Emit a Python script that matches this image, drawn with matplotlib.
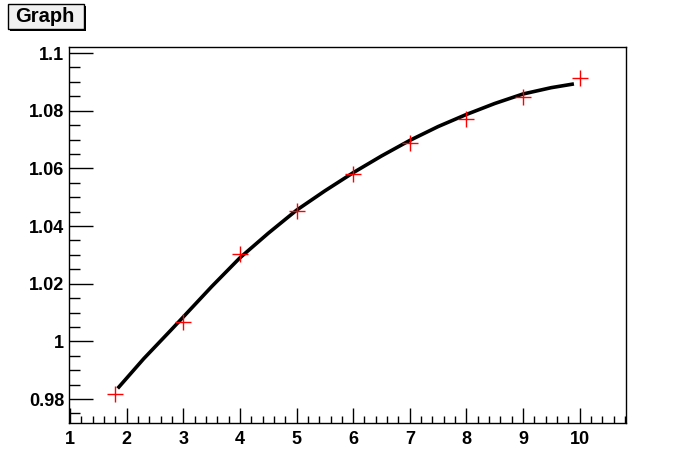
import matplotlib
matplotlib.use("Agg")
import matplotlib.pyplot as plt
from matplotlib.ticker import MultipleLocator, FuncFormatter
from matplotlib.patches import Rectangle

# measured points (red markers)
x_pts = [1.8, 3, 4, 5, 6, 7, 8, 9, 10]
y_pts = [0.9817, 1.0067, 1.0303, 1.0452, 1.0579, 1.0687, 1.0773, 1.0846, 1.0912]

# fitted curve
x_fit = [1.84, 2.3, 2.78, 3.0, 3.5, 4.0, 4.5, 5.0, 5.5, 6.0, 6.5, 7.0, 7.5, 8.0, 8.5, 9.0, 9.5, 9.9]
y_fit = [0.9837, 0.9940, 1.0039, 1.0085, 1.0190, 1.0290, 1.0375, 1.0455, 1.0522, 1.0585, 1.0643, 1.0697, 1.0745, 1.0787, 1.0825, 1.0858, 1.0880, 1.0893]

plt.rcParams['font.family'] = ['Liberation Sans', 'DejaVu Sans']

fig = plt.figure(figsize=(6.96, 4.72), dpi=100)
ax = fig.add_axes([69/696, 1 - 423/472, (626 - 69)/696, (423 - 47)/472])

ax.plot(x_fit, y_fit, color='black', linewidth=2.6, solid_capstyle='butt', zorder=2)
ax.plot(x_pts, y_pts, linestyle='none', marker='+', markersize=12,
        markeredgewidth=1.0, color='red', zorder=3)

ax.set_xlim(0.98, 10.82)
ax.set_ylim(0.9717, 1.1021)

ax.xaxis.set_major_locator(MultipleLocator(1))
ax.xaxis.set_minor_locator(MultipleLocator(0.2))
ax.yaxis.set_major_locator(MultipleLocator(0.02))
ax.yaxis.set_minor_locator(MultipleLocator(0.005))
ax.yaxis.set_major_formatter(FuncFormatter(lambda v, p: f"{v:.2f}".rstrip('0').rstrip('.')))
ax.xaxis.set_major_formatter(FuncFormatter(lambda v, p: f"{v:g}"))

ax.tick_params(axis='both', which='both', direction='in', top=False, right=False,
               width=1, colors='black')
ax.tick_params(axis='x', which='major', length=11, pad=5.5)
ax.tick_params(axis='x', which='minor', length=5)
ax.tick_params(axis='y', which='major', length=17, pad=3.5)
ax.tick_params(axis='y', which='minor', length=8)
for lab in ax.get_xticklabels() + ax.get_yticklabels():
    lab.set_fontweight('bold')
    lab.set_fontsize(13)

for s in ax.spines.values():
    s.set_linewidth(1)

# title box in the upper left corner
fig.patches.append(Rectangle((10/696, 1 - 31/472), 76/696, 25/472, transform=fig.transFigure,
                             facecolor='black', edgecolor='black', linewidth=0))
fig.patches.append(Rectangle((8/696, 1 - 29/472), 76/696, 25/472, transform=fig.transFigure,
                             facecolor='#f0f0f0', edgecolor='black', linewidth=1))
fig.text(45/696, 1 - 17/472, 'Graph', ha='center', va='center',
         fontsize=14.5, fontweight='bold')

fig.savefig('out.png', dpi=100, facecolor='white')
